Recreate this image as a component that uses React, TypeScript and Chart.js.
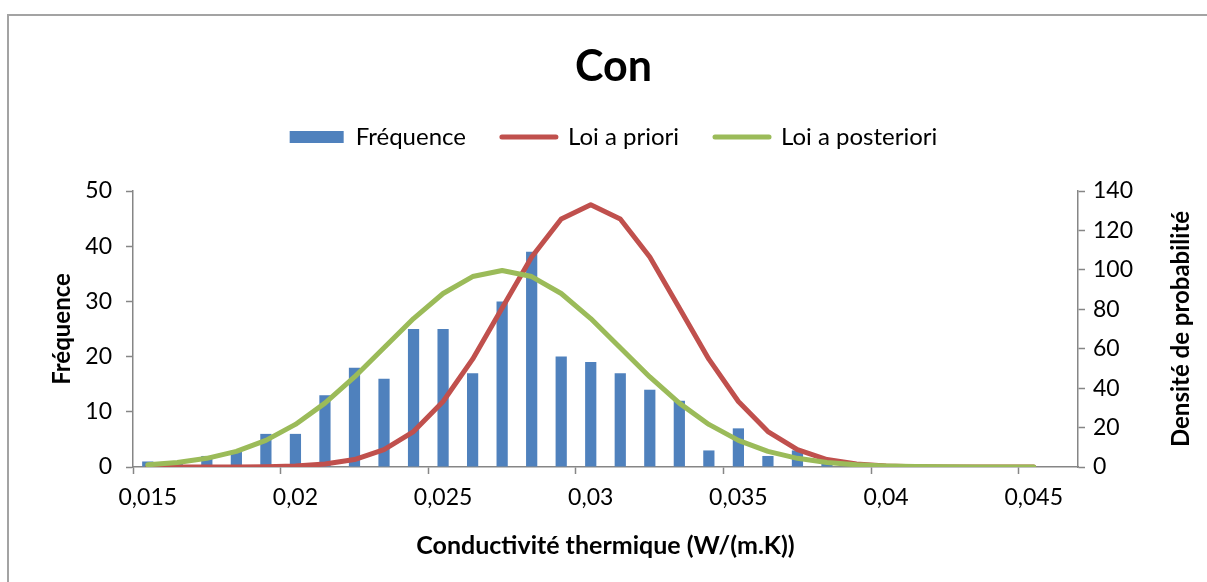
import React, { useEffect, useRef } from 'react';
import { Chart, registerables } from 'chart.js';

Chart.register(...registerables);

const categories = [
  '0,015', '0,016', '0,017', '0,018', '0,019', '0,02', '0,021', '0,022',
  '0,023', '0,024', '0,025', '0,026', '0,027', '0,028', '0,029', '0,03',
  '0,031', '0,032', '0,033', '0,034', '0,035', '0,036', '0,037', '0,038',
  '0,039', '0,04', '0,041', '0,042', '0,043', '0,044', '0,045', '0,046',
];

const frequence = [
  1, 1, 2, 3, 6, 6, 13, 18, 16, 25, 25, 17, 30, 39, 20, 19,
  17, 14, 12, 3, 7, 2, 3, 1, 0, 0, 0, 0, 0, 0, 0, null,
];

const loiPriori = [
  0, 0, 0.01, 0.05, 0.16, 0.51, 1.5, 3.8, 8.8, 18, 33.2, 54.7, 80.7, 106.5, 125.8, 133,
  125.8, 106.5, 80.7, 54.7, 33.2, 18, 8.8, 3.8, 1.5, 0.51, 0.16, 0.05, 0.01, 0, 0, null,
];

const loiPosteriori = [
  1.1, 2.3, 4.4, 7.9, 13.5, 21.6, 32.4, 45.7, 60.5, 75.3, 88, 96.6, 99.7, 96.6, 88, 75.3,
  60.5, 45.7, 32.4, 21.6, 13.5, 7.9, 4.4, 2.3, 1.1, 0.5, 0.2, 0.09, 0.03, 0.01, 0, null,
];

const seriesNames = ['Fréquence', 'Loi a priori', 'Loi a posteriori'];
const chartTitle = 'Con';
const xTitle = 'Conductivité thermique (W/(m.K))';
const yTitle = 'Fréquence';
const y2Title = 'Densité de probabilité';

const FONT = 'Lato, "Open Sans", sans-serif';
const AXIS_GRAY = '#868686';

export default function App() {
  const ref = useRef<HTMLCanvasElement | null>(null);

  useEffect(() => {
    if (!ref.current) return;
    const rightTitlePlugin = {
      id: 'rightTitle',
      afterDraw(chart: any) {
        const { ctx, chartArea } = chart;
        ctx.save();
        ctx.font = `bold 24px ${FONT}`;
        ctx.fillStyle = '#000';
        ctx.textAlign = 'center';
        ctx.textBaseline = 'middle';
        ctx.translate(1181, (chartArea.top + chartArea.bottom) / 2);
        ctx.rotate(-Math.PI / 2);
        ctx.fillText(y2Title, 0, 0);
        ctx.restore();
      },
    };

    const chart = new Chart(ref.current, {
      type: 'bar',
      data: {
        labels: categories,
        datasets: [
          {
            type: 'bar',
            label: seriesNames[0],
            data: frequence,
            backgroundColor: '#4F81BD',
            borderWidth: 0,
            yAxisID: 'y',
            barPercentage: 0.38,
            categoryPercentage: 1,
            order: 3,
          } as any,
          {
            type: 'line',
            label: seriesNames[1],
            data: loiPriori,
            borderColor: '#C0504D',
            backgroundColor: '#C0504D',
            borderWidth: 5,
            pointRadius: 0,
            tension: 0,
            borderCapStyle: 'round',
            borderJoinStyle: 'round',
            yAxisID: 'y1',
            order: 2,
          } as any,
          {
            type: 'line',
            label: seriesNames[2],
            data: loiPosteriori,
            borderColor: '#9BBB59',
            backgroundColor: '#9BBB59',
            borderWidth: 5,
            pointRadius: 0,
            tension: 0,
            borderCapStyle: 'round',
            borderJoinStyle: 'round',
            yAxisID: 'y1',
            order: 1,
          } as any,
        ],
      },
      options: {
        responsive: false,
        animation: false,
        layout: { padding: { left: 20, right: 0, top: 0, bottom: 0 } },
        plugins: {
          tooltip: { enabled: false },
          title: {
            display: true,
            text: chartTitle,
            color: '#000',
            font: { family: FONT, size: 43, weight: 'bold', lineHeight: 1.0 },
            padding: { top: 45.5, bottom: 0.5 },
          },
          legend: {
            display: true,
            position: 'top',
            labels: {
              color: '#000',
              font: { family: FONT, size: 24 },
              usePointStyle: true,
              pointStyleWidth: 54,
              boxHeight: 12,
              padding: 36,
              sort: (a: any, b: any) => a.datasetIndex - b.datasetIndex,
              generateLabels: (chart: any) => {
                const items = Chart.defaults.plugins.legend.labels.generateLabels(chart);
                return items.map((it: any) => ({
                  ...it,
                  pointStyle: it.datasetIndex === 0 ? 'rect' : 'line',
                  lineWidth: it.datasetIndex === 0 ? 0 : 5,
                  lineCap: 'round',
                }));
              },
            },
          },
          subtitle: {
            display: true,
            text: ' ',
            weight: 500,
            font: { size: 10, lineHeight: 1.2 },
            padding: { top: 20, bottom: 0 },
          } as any,
        },
        scales: {
          x: {
            type: 'category',
            offset: true,
            afterFit: (s: any) => { s.height = 115; },
            grid: {
              offset: true,
              drawOnChartArea: false,
              drawTicks: true,
              tickLength: 7,
              tickWidth: 1.5,
              tickColor: (c: any) => (c.index % 5 === 0 ? AXIS_GRAY : 'rgba(0,0,0,0)'),
            },
            border: { color: AXIS_GRAY, width: 1.5 },
            ticks: {
              autoSkip: false,
              maxRotation: 0,
              minRotation: 0,
              padding: 10,
              color: '#000',
              font: { family: FONT, size: 23 },
              callback: (_v: any, i: number) => (i % 5 === 0 ? categories[i] : ''),
            },
            title: {
              display: true,
              text: xTitle,
              color: '#000',
              font: { family: FONT, size: 25, weight: 'bold', lineHeight: 1.2 },
              padding: { top: 0, bottom: 21 },
            },
          },
          y: {
            type: 'linear',
            position: 'left',
            min: 0,
            max: 50,
            afterFit: (s: any) => { s.width = 113; },
            grid: { drawOnChartArea: false, drawTicks: true, tickLength: 7, tickWidth: 1.5, tickColor: AXIS_GRAY },
            border: { color: AXIS_GRAY, width: 1.5 },
            ticks: { stepSize: 10, padding: 14, color: '#000', font: { family: FONT, size: 23 } },
            title: {
              display: true,
              text: yTitle,
              color: '#000',
              font: { family: FONT, size: 24, weight: 'bold', lineHeight: 1.2 },
              padding: { top: 27.6, bottom: 0 },
            },
          },
          y1: {
            type: 'linear',
            position: 'right',
            min: 0,
            max: 140,
            afterFit: (s: any) => { s.width = 129; },
            grid: { drawOnChartArea: false, drawTicks: true, tickLength: 7, tickWidth: 1.5, tickColor: AXIS_GRAY },
            border: { color: AXIS_GRAY, width: 1.5 },
            ticks: { stepSize: 20, padding: 8, color: '#000', font: { family: FONT, size: 23 } },
          },
        },
      } as any,
      plugins: [rightTitlePlugin],
    });
    return () => chart.destroy();
  }, []);

  return (
    <div style={{ position: 'absolute', left: 0, top: 0, width: 1207, height: 582, background: '#fff', overflow: 'hidden' }}>
      <div
        style={{
          position: 'absolute',
          left: 7,
          top: 14,
          width: 1400,
          height: 800,
          borderLeft: '2px solid #A3A3A3',
          borderTop: '2px solid #A3A3A3',
        }}
      />
      <canvas ref={ref} width={1207} height={582} style={{ position: 'absolute', left: 0, top: 0 }} />
    </div>
  );
}
